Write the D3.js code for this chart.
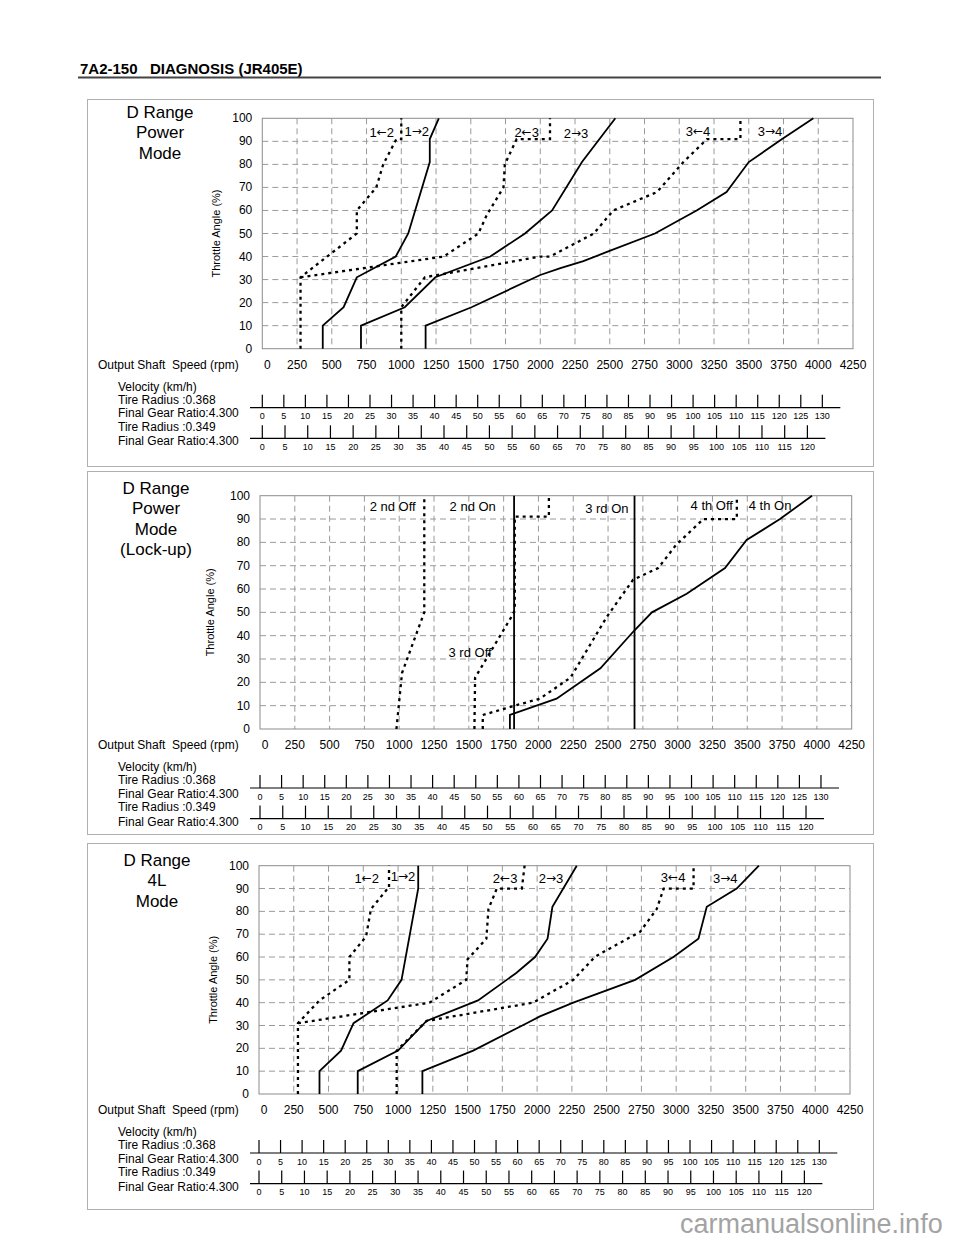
<!DOCTYPE html>
<html><head><meta charset="utf-8">
<script src="https://cdn.jsdelivr.net/npm/d3@7"></script>
<style>
body{margin:0;background:#fff}
text{font-family:"Liberation Sans",Arial,sans-serif;fill:#000}
</style>
</head><body>
<svg id="c" width="960" height="1242"></svg>
<script>
// ---------- axis / tick data ----------
const rpmTicks = [0,250,500,750,1000,1250,1500,1750,2000,2250,2500,2750,3000,3250,3500,3750,4000,4250];
const throttleTicks = [0,10,20,30,40,50,60,70,80,90,100];
const velTicksA = [0,5,10,15,20,25,30,35,40,45,50,55,60,65,70,75,80,85,90,95,100,105,110,115,120,125,130];
const velTicksB = [0,5,10,15,20,25,30,35,40,45,50,55,60,65,70,75,80,85,90,95,100,105,110,115,120];
const tireRadii = [0.368, 0.349];
const finalGearRatio = 4.300;

// ---------- Panel 1 : D Range Power Mode  [rpm, throttle %] ----------
const p1_up12 = [[435,0],[435,10],[585,18],[680,31],[960,40],[1050,50],[1205,81],[1205,91],[1270,100]];
const p1_dn12 = [[275,0],[275,31],[680,50],[680,60],[820,70],[870,80],[965,91],[1000,91],[1000,100]];
const p1_up23 = [[710,0],[710,10],[1025,18],[1245,31],[1640,40],[1890,50],[2085,60],[2300,81],[2540,100]];
const p1_dn23 = [[275,31],[1305,40],[1555,50],[1615,58],[1735,70],[1745,80],[1830,91],[2070,91],[2070,100]];
const p1_up34 = [[1175,0],[1175,10],[1505,18],[2000,32],[2145,35],[2310,38],[2480,42],[2825,50],[3125,60],[3340,68],[3500,81],[3740,91],[3965,100]];
const p1_dn34 = [[1000,0],[1000,18],[1170,31],[2000,40],[2070,40],[2385,50],[2525,60],[2840,68],[3030,81],[3200,91],[3440,91],[3440,100]];

// ---------- Panel 2 : D Range Power Mode (Lock-up) ----------
const p2_off2 = [[980,0],[1000,12],[1020,24],[1180,50],[1180,100]];
const p2_off3 = [[1540,0],[1545,22],[1815,49],[1830,51],[1830,91],[2075,91],[2075,100]];
const p2_off4 = [[1600,0],[1600,6],[1830,10],[2010,13],[2230,22],[2490,48],[2680,64],[2860,69],[2990,79],[3185,90],[3425,90],[3425,100]];
const p2_on2  = [[1825,0],[1825,100]];
const p2_on3  = [[2690,0],[2690,100]];
const p2_on4  = [[1795,0],[1795,6],[2130,13],[2445,26],[2685,42],[2815,50],[3065,58],[3340,69],[3495,81],[3735,90],[3965,100]];

// ---------- Panel 3 : D Range 4L Mode ----------
const p3_up12 = [[435,0],[435,10],[590,19],[680,31],[925,41],[1025,50],[1145,90],[1145,100]];
const p3_dn12 = [[280,0],[280,31],[435,41],[650,50],[650,60],[770,69],[805,81],[925,90],[935,90],[935,100]];
const p3_up23 = [[710,0],[710,10],[1000,19],[1205,32],[1575,41],[1850,53],[1985,60],[2075,68],[2110,82],[2285,100]];
const p3_dn23 = [[280,31],[1225,40],[1490,50],[1500,59],[1635,68],[1650,81],[1710,90],[1890,90],[1910,100]];
const p3_up34 = [[1175,0],[1175,10],[1540,19],[1925,31],[2020,34],[2260,40],[2705,50],[2980,60],[3160,68],[3220,82],[3435,90],[3595,100]];
const p3_dn34 = [[990,0],[990,19],[1205,32],[1970,40],[2260,50],[2415,60],[2500,63],[2740,71],[2860,81],[2910,90],[3125,90],[3125,100]];

// ---------- annotation labels [text, rpm, throttle] ----------
const p1_labels = [["1\u21902",859,94.2],["1\u21922",1111,94.5],["2\u21903",1902,94.2],["2\u21923",2257,93.6],["3\u21904",3135,94.5],["3\u21924",3653,94.5]];
const p2_labels = [["2 nd Off",953,95.3],["2 nd On",1528,95.3],["3 rd Off",1509,32.6],["3 rd On",2491,94.7],["4 th Off",3245,96],["4 th On",3664,95.6]];
const p3_labels = [["1\u21902",775,94.5],["1\u21922",1036,95.5],["2\u21903",1770,94.6],["2\u21923",2100,94.6],["3\u21904",2978,95],["3\u21924",3353,94.6]];

const svg = d3.select("#c");

// header
svg.append("text").attr("x",80).attr("y",74).attr("font-size",15).attr("font-weight","bold")
  .text("7A2-150\u00a0\u00a0\u00a0DIAGNOSIS (JR405E)");
svg.append("line").attr("x1",78).attr("x2",881).attr("y1",77.5).attr("y2",77.5)
  .attr("stroke","#444").attr("stroke-width",2);

const panels = [
  {title:["D Range","Power","Mode"], tx:160, ty:112, frame:[87,99,873,466],
   plot:{l:262.3,r:853,t:118.3,b:348.7}, ylx:216,
   series:[[p1_dn12,1],[p1_dn23,1],[p1_dn34,1],[p1_up12,0],[p1_up23,0],[p1_up34,0]], labels:p1_labels},
  {title:["D Range","Power","Mode","(Lock-up)"], tx:156, ty:488, frame:[87,471,873,834],
   plot:{l:260,r:851.7,t:495.7,b:729}, ylx:210,
   series:[[p2_off2,1],[p2_off3,1],[p2_off4,1],[p2_on2,0],[p2_on3,0],[p2_on4,0]], labels:p2_labels},
  {title:["D Range","4L","Mode"], tx:157, ty:860, frame:[87,843,873,1209],
   plot:{l:259,r:850,t:865.7,b:1094}, ylx:213,
   series:[[p3_dn12,1],[p3_dn23,1],[p3_dn34,1],[p3_up12,0],[p3_up23,0],[p3_up34,0]], labels:p3_labels}
];

const kmhToRpm = (v, r) => v * 1000 * finalGearRatio / (2 * Math.PI * r * 60);

panels.forEach(p => {
  const g = svg.append("g");
  const P = p.plot;
  const x = d3.scaleLinear().domain([0,4250]).range([P.l,P.r]);
  const y = d3.scaleLinear().domain([0,100]).range([P.b,P.t]);
  const [fx0,fy0,fx1,fy1] = p.frame;
  g.append("rect").attr("x",fx0+0.5).attr("y",fy0+0.5).attr("width",fx1-fx0).attr("height",fy1-fy0)
    .attr("fill","none").attr("stroke","#b0b0b0").attr("stroke-width",1);

  // title
  p.title.forEach((t,i) => g.append("text").attr("x",p.tx).attr("y",p.ty+i*20.5)
    .attr("text-anchor","middle").attr("dominant-baseline","central").attr("font-size",17).text(t));

  // y axis title
  g.append("text").attr("transform",`translate(${p.ylx},${(P.t+P.b)/2}) rotate(-90)`)
    .attr("text-anchor","middle").attr("dominant-baseline","central").attr("font-size",11).text("Throttle Angle (%)");

  // grid
  g.selectAll(".vg").data(rpmTicks.filter(d=>d>0&&d<4250)).join("line")
    .attr("x1",d=>x(d)).attr("x2",d=>x(d)).attr("y1",P.t).attr("y2",P.b)
    .attr("stroke","#9a9a9a").attr("stroke-width",1).attr("stroke-dasharray","6,4");
  g.selectAll(".hg").data(throttleTicks.filter(d=>d>0&&d<100)).join("line")
    .attr("x1",P.l).attr("x2",P.r).attr("y1",d=>y(d)).attr("y2",d=>y(d))
    .attr("stroke","#9a9a9a").attr("stroke-width",1).attr("stroke-dasharray","6,4");
  g.append("rect").attr("x",P.l).attr("y",P.t).attr("width",P.r-P.l).attr("height",P.b-P.t)
    .attr("fill","none").attr("stroke","#8c8c8c").attr("stroke-width",1);

  // curves
  const line = d3.line().x(d=>x(d[0])).y(d=>y(d[1]));
  p.series.forEach(([data,dotted]) => {
    g.append("path").attr("d",line(data)).attr("fill","none").attr("stroke","#000")
      .attr("stroke-width",dotted?2.3:1.8).attr("stroke-dasharray",dotted?"3,4":null)
      .attr("stroke-linejoin","miter");
  });

  // annotations (arrows drawn with a wider arrow glyph)
  p.labels.forEach(([t,r,th]) => {
    const tx = g.append("text").attr("x",x(r)).attr("y",y(th))
      .attr("text-anchor","middle").attr("dominant-baseline","central").attr("font-size",13);
    const m = t.match(/^(\d)([\u2190\u2192])(\d)$/);
    if (m) {
      tx.append("tspan").text(m[1]);
      tx.append("tspan").style("font-family","'DejaVu Sans'").attr("font-size",12).text(m[2]);
      tx.append("tspan").text(m[3]);
    } else tx.text(t);
  });

  // y tick labels
  g.selectAll(".yl").data(throttleTicks).join("text")
    .attr("x",P.l-10).attr("y",d=>y(d)).attr("text-anchor","end").attr("dominant-baseline","central")
    .attr("font-size",12).text(d=>d);

  // x tick labels
  const B = P.b;
  g.selectAll(".xl").data(rpmTicks).join("text")
    .attr("x",d=>d===0?x(d)+5:x(d)).attr("y",B+16).attr("text-anchor","middle").attr("dominant-baseline","central")
    .attr("font-size",12).text(d=>d);

  // left descriptions
  g.append("text").attr("x",98).attr("y",B+16).attr("dominant-baseline","central").attr("font-size",12)
    .text("Output Shaft\u00a0 Speed (rpm)");
  const desc = [["Velocity (km/h)",38],["Tire Radius :0.368",51],["Final Gear Ratio:4.300",64.5],["Tire Radius :0.349",78],["Final Gear Ratio:4.300",92.5]];
  desc.forEach(([t,dy]) => g.append("text").attr("x",118).attr("y",B+dy).attr("dominant-baseline","central")
    .attr("font-size",12).text(t));

  // velocity scales
  [[velTicksA,tireRadii[0],59],[velTicksB,tireRadii[1],89.6]].forEach(([ticks,r,dy]) => {
    const vx = v => x(kmhToRpm(v,r));
    const ly = B+dy;
    const last = vx(ticks[ticks.length-1]);
    g.append("line").attr("x1",250).attr("x2",last+18).attr("y1",ly).attr("y2",ly)
      .attr("stroke","#000").attr("stroke-width",1.2);
    g.selectAll(null).data(ticks).join("line")
      .attr("x1",d=>vx(d)).attr("x2",d=>vx(d)).attr("y1",ly-13).attr("y2",ly)
      .attr("stroke","#000").attr("stroke-width",1.2);
    g.selectAll(null).data(ticks).join("text")
      .attr("x",d=>vx(d)).attr("y",ly+8.5).attr("text-anchor","middle").attr("dominant-baseline","central")
      .attr("font-size",9).attr("fill","#222").text(d=>d);
  });
});

// watermark
svg.append("text").attr("x",680).attr("y",1233).attr("font-size",27).style("fill","#a3a3a3")
  .text("carmanualsonline.info");
</script>
</body></html>
